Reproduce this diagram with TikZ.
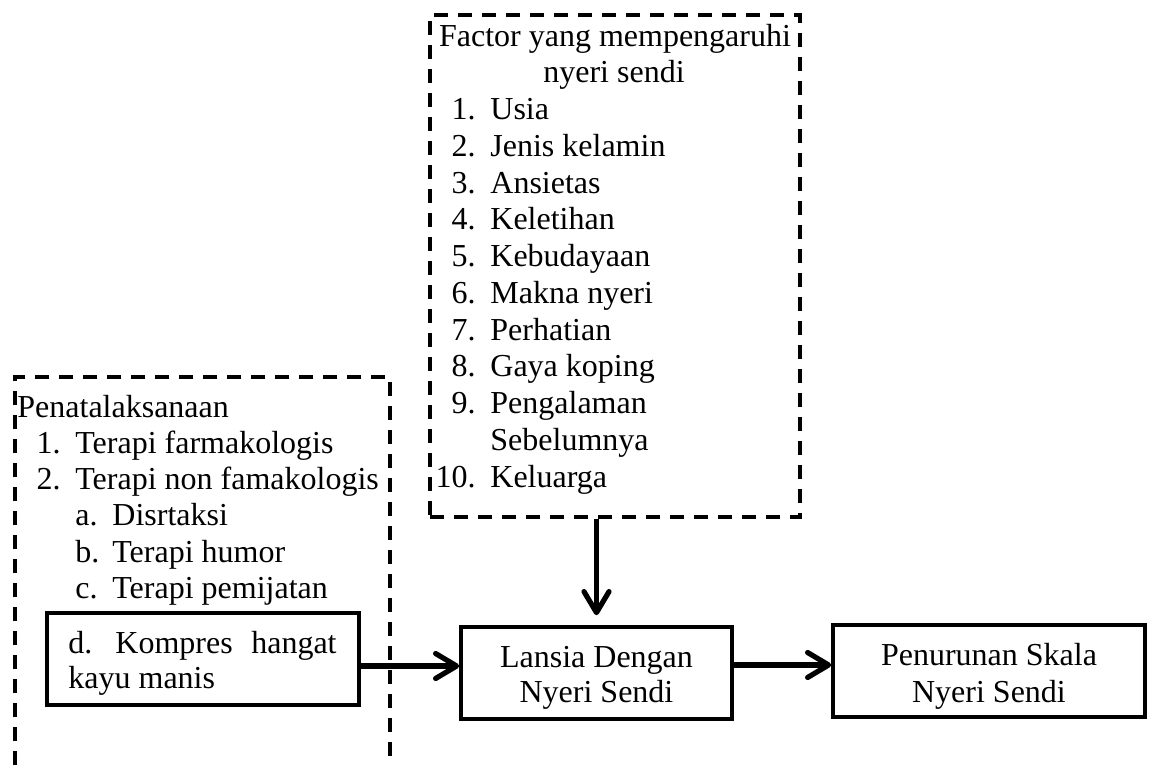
\documentclass[tikz,border=0pt]{standalone}
\usepackage{fontspec}
\setmainfont{Liberation Serif}
\usetikzlibrary{arrows.meta}
\begin{document}
\begin{tikzpicture}[x=0.5pt,y=-0.5pt,
  txt/.style={inner sep=0pt, font=\fontsize{16}{18.4}\selectfont},
  lw/.style={txt, anchor=base west},
  le/.style={txt, anchor=base east},
  lc/.style={txt, anchor=base},
  dashbox/.style={line width=1.9pt, dash pattern=on 7pt off 5pt},
  solidbox/.style={draw, line width=1.8pt, rectangle, inner sep=0pt},
  arr/.style={line width=2.6pt, -{Straight Barb[length=10.5pt,width=12.5pt,line cap=round,line join=round]}}
]
\useasboundingbox (0,0) rectangle (1152,765);

% frames
\node[draw, dashbox, rectangle, inner sep=0pt, minimum width=185pt, minimum height=251pt] (faktor) at (615,266) {};
\draw[dashbox] (15,765) -- (15,377) -- (390,377) -- (390,765);

% boxes
\node[solidbox, minimum width=156pt, minimum height=46pt] (kompres) at (203,659) {};
\node[solidbox, minimum width=135.5pt, minimum height=46pt] (lansia) at (596.5,673) {};
\node[solidbox, minimum width=156pt, minimum height=46pt] (turun) at (989,671) {};

% top list
\node[lc] (f1) at (615,47) {Factor yang mempengaruhi};
\node[lc] (f2) at (614,83) {nyeri sendi};
\node[le] (n1) at (476,119.5) {1.};   \node[lw] (i1) at (490,119.5) {Usia};
\node[le] (n2) at (476,156.25) {2.};  \node[lw] (i2) at (490,156.25) {Jenis kelamin};
\node[le] (n3) at (476,193) {3.};     \node[lw] (i3) at (490,193) {Ansietas};
\node[le] (n4) at (476,229.75) {4.};  \node[lw] (i4) at (490,229.75) {Keletihan};
\node[le] (n5) at (476,266.5) {5.};   \node[lw] (i5) at (490,266.5) {Kebudayaan};
\node[le] (n6) at (476,303.25) {6.};  \node[lw] (i6) at (490,303.25) {Makna nyeri};
\node[le] (n7) at (476,340) {7.};     \node[lw] (i7) at (490,340) {Perhatian};
\node[le] (n8) at (476,376.75) {8.};  \node[lw] (i8) at (490,376.75) {Gaya koping};
\node[le] (n9) at (476,413.5) {9.};   \node[lw] (i9) at (490,413.5) {Pengalaman};
\node[lw] (i9b) at (490,450.25) {Sebelumnya};
\node[le] (n10) at (476,487) {10.};   \node[lw] (i10) at (490,487) {Keluarga};

% left list
\node[lw] (p0) at (17,417) {Penatalaksanaan};
\node[le] (pn1) at (61,453) {1.};  \node[lw] (p1) at (75,453) {Terapi farmakologis};
\node[le] (pn2) at (61,489) {2.};  \node[lw] (p2) at (75,489) {Terapi non famakologis};
\node[lw] (pa) at (75,525) {a.};   \node[lw] (pat) at (112,525) {Disrtaksi};
\node[lw] (pb) at (75,562) {b.};   \node[lw] (pbt) at (112,562) {Terapi humor};
\node[lw] (pc) at (75,598) {c.};   \node[lw] (pct) at (112,598) {Terapi pemijatan};
\node[lw] (pd) at (68,653) {d.};   \node[lw] (pdt) at (115,653) {Kompres};
\node[le] (pdh) at (337,653) {hangat};
\node[lw] (pd2) at (68,688) {kayu manis};

% box texts
\node[lc] (l1) at (596.5,667) {Lansia Dengan};
\node[lc] (l2) at (596.5,702) {Nyeri Sendi};
\node[lc] (t1) at (989,665) {Penurunan Skala};
\node[lc] (t2) at (989,702) {Nyeri Sendi};

% connectors
\draw[arr] (faktor.south -| lansia.north) -- ([yshift=5pt]lansia.north);
\draw[arr] ([yshift=-3.5pt]kompres.east) -- ([yshift=-3.5pt]kompres.east -| lansia.west);
\draw[arr] ([yshift=4pt]lansia.east) -- ([yshift=4pt]lansia.east -| turun.west);
\end{tikzpicture}
\end{document}
